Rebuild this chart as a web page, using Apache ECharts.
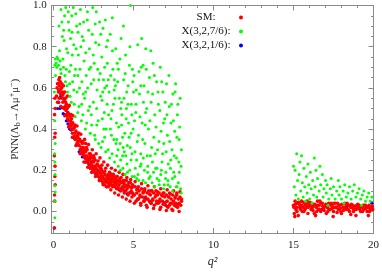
<!DOCTYPE html>
<html><head><meta charset="utf-8">
<script src="https://cdn.jsdelivr.net/npm/echarts@6/dist/echarts.min.js"></script>
<style>html,body{margin:0;padding:0;background:#fff}#c{width:382px;height:273px}</style>
</head><body><div id="c"></div>
<script>
// ---- data ----
const xMajorTicks = [0, 5, 10, 15, 20];
const xMinorTicks = [1,2,3,4,6,7,8,9,11,12,13,14,16,17,18,19];
const yMajorTicks = [0, 0.2, 0.4, 0.6, 0.8, 1.0];
const yMinorTicks = [-0.05,0.05,0.1,0.15,0.25,0.3,0.35,0.45,0.5,0.55,0.65,0.7,0.75,0.85,0.9,0.95];
const seriesNames = ['SM:', 'X(3,2,7/6):', 'X(3,2,1/6):'];

// SM (red)
const smLow = [
[0.08,0.55],[0.06,0.47],[0.1,0.38],[0.07,0.36],[0.05,0.27],[0.09,0.22],[0.08,0.17],[0.06,0.08],[0.07,0.05],[0.1,0.13],[0.05,-0.08],[0.1,0.50],
[0.18,0.56],[0.22,0.60],[0.25,0.53],[0.28,0.62],[0.3,0.58],[0.33,0.64],[0.35,0.55],[0.38,0.61],[0.4,0.59],[0.42,0.63],[0.45,0.57],[0.48,0.60],[0.5,0.55],[0.52,0.62],[0.55,0.58],
[0.58,0.53],[0.6,0.57],[0.63,0.55],[0.65,0.50],[0.68,0.54],[0.7,0.58],[0.72,0.51],[0.75,0.53],[0.78,0.49],[0.8,0.52],[0.83,0.47],[0.85,0.50],[0.88,0.45],[0.9,0.48],[0.93,0.51],[0.95,0.44],[0.98,0.47],
[1.0,0.42],[1.03,0.46],[1.06,0.44],[1.1,0.40],[1.12,0.45],[1.15,0.42],[1.18,0.38],[1.2,0.43],[1.23,0.40],[1.27,0.36],[1.3,0.41],[1.33,0.38],[1.36,0.35],[1.4,0.39],[1.43,0.36],[1.46,0.33],[1.5,0.37],
[1.53,0.34],[1.56,0.38],[1.6,0.32],[1.63,0.35],[1.66,0.30],[1.7,0.34],[1.73,0.31],[1.76,0.28],[1.8,0.33],[1.83,0.29],[1.86,0.31],[1.9,0.27],[1.93,0.30],[1.96,0.26],[2.0,0.29],[2.0,0.33],
[2.05,0.27],[2.08,0.24],[2.1,0.30],[2.15,0.26],[2.2,0.23],[2.22,0.28],[2.27,0.25],[2.3,0.21],[2.33,0.27],[2.36,0.24],[2.4,0.22],[2.43,0.26],[2.46,0.20],[2.5,0.24],[2.5,0.27],
[2.55,0.22],[2.58,0.19],[2.6,0.25],[2.65,0.21],[2.7,0.18],[2.72,0.23],[2.77,0.20],[2.8,0.17],[2.83,0.22],[2.87,0.19],[2.9,0.16],[2.93,0.21],[2.96,0.18],[3.0,0.15],[3.0,0.20],
[3.05,0.17],[3.08,0.14],[3.1,0.19],[3.15,0.16],[3.2,0.13],[3.22,0.18],[3.27,0.15],[3.3,0.12],[3.33,0.17],[3.37,0.14],[3.4,0.16],[3.43,0.12],[3.47,0.15],[3.5,0.13],[3.5,0.17],
[3.55,0.16],[3.58,0.13],[3.62,0.18],[3.65,0.15],[3.7,0.12],[3.73,0.17],[3.77,0.14],[3.8,0.16],[3.83,0.12],[3.87,0.15],[3.9,0.13],[3.93,0.17],[3.97,0.14],[4.0,0.11],
[4.05,0.15],[4.1,0.13],[4.15,0.16],[4.2,0.11],[4.25,0.14],[4.3,0.12],[4.35,0.15],[4.4,0.10],[4.45,0.13],[4.5,0.12],[4.55,0.15],[4.6,0.11],[4.65,0.13],[4.7,0.09],[4.75,0.12],[4.8,0.14],[4.85,0.10],[4.9,0.12],[4.95,0.09],[5.0,0.12],
[5.05,0.08],[5.1,0.12],[5.15,0.05],[5.2,0.09],[5.25,0.11],[5.3,0.06],[5.35,0.10],[5.4,0.08],[5.45,0.04],[5.5,0.11],[5.55,0.07],[5.6,0.09],[5.65,0.05],[5.7,0.10],[5.75,0.07],[5.8,0.03],[5.85,0.09],[5.9,0.06],[5.95,0.10],[6.0,0.05],
[6.05,0.08],[6.1,0.04],[6.15,0.10],[6.2,0.06],[6.25,0.09],[6.3,0.03],[6.35,0.07],[6.4,0.10],[6.45,0.05],[6.5,0.08],[6.55,0.04],[6.6,0.09],[6.65,0.06],[6.7,0.02],[6.75,0.08],[6.8,0.05],[6.85,0.09],[6.9,0.04],[6.95,0.07],[7.0,0.03],
[7.05,0.08],[7.1,0.05],[7.15,0.02],[7.2,0.07],[7.25,0.09],[7.3,0.04],[7.35,0.06],[7.4,0.01],[7.45,0.08],[7.5,0.05],[7.55,0.03],[7.6,0.07],[7.65,0.04],[7.7,0.09],[7.75,0.02],[7.8,0.06],[7.85,0.04],[7.9,0.07],[7.95,0.03],[8.0,0.05],
[0.25,0.62],[0.38,0.65],[0.5,0.60],[0.62,0.61],[0.74,0.55],[0.86,0.56],[0.98,0.515],[1.1,0.47],[1.22,0.465],[1.34,0.42],[1.46,0.415],[1.58,0.38],[1.7,0.375],[1.82,0.34],[1.94,0.35],[2.06,0.31],[2.18,0.325],[2.3,0.28],[2.42,0.30],[2.54,0.26],[2.66,0.28],[2.78,0.245],[2.9,0.26],[3.02,0.225],[3.14,0.24],[3.26,0.21],[3.38,0.225],[3.5,0.19],[3.62,0.21],[3.74,0.18],[3.86,0.20],[3.98,0.17],[4.1,0.19],[4.22,0.165],[4.34,0.18],[4.46,0.15],[4.58,0.165],[4.7,0.14],[4.82,0.155],[4.94,0.13],[5.1,0.145],[5.3,0.12],[5.5,0.135],[5.7,0.11],[5.9,0.125],[6.1,0.10],[6.3,0.12],[6.5,0.095],[6.7,0.11],[6.9,0.09],[7.1,0.105],[7.3,0.085],[7.5,0.10],[7.7,0.08],[7.9,0.095],
[0.3,0.53],[0.45,0.51],[0.58,0.505],[0.7,0.465],[0.82,0.465],[0.94,0.41],[1.06,0.415],[1.18,0.36],[1.3,0.365],[1.42,0.32],[1.54,0.325],[1.66,0.28],[1.78,0.285],[1.9,0.24],[2.02,0.255],[2.14,0.215],[2.26,0.225],[2.38,0.19],[2.5,0.205],[2.62,0.17],[2.74,0.185],[2.86,0.15],[2.98,0.165],[3.1,0.13],[3.22,0.15],[3.34,0.12],[3.46,0.135],[3.58,0.105],[3.7,0.125],[3.82,0.09],[3.94,0.11],[4.06,0.08],[4.18,0.10],[4.3,0.07],[4.42,0.09],[4.54,0.06],[4.66,0.08],[4.78,0.05],[4.9,0.07],[5.05,0.04],[5.25,0.06],[5.45,0.03],[5.65,0.05],[5.85,0.02],[6.05,0.045],[6.25,0.015],[6.45,0.04],[6.65,0.01],[6.85,0.035],[7.05,0.005],[7.25,0.03],[7.45,0.005],[7.65,0.025],[7.85,0.0],
[0.32,0.59],[0.44,0.575],[0.56,0.565],[0.68,0.50],[0.8,0.50],[0.92,0.475],[1.04,0.425],[1.16,0.40],[1.28,0.405],[1.4,0.35],[1.52,0.36],[1.64,0.345],[1.76,0.30],[1.88,0.285],[2.0,0.295],[2.12,0.25],[2.24,0.265],[2.36,0.23],[2.48,0.245],[2.6,0.205],[2.72,0.225],[2.84,0.19],[2.96,0.21],[3.08,0.17],[3.2,0.195],[3.32,0.155],[3.44,0.18],[3.56,0.14],[3.68,0.165],[3.8,0.13],[3.92,0.155],[4.04,0.12],[4.16,0.145],[4.28,0.11],[4.4,0.135],[4.52,0.10],[4.64,0.125],[4.76,0.09],[4.88,0.115],[5.0,0.08],[5.2,0.105],[5.4,0.07],[5.6,0.095],[5.8,0.06],[6.0,0.085],[6.2,0.055],[6.4,0.08],[6.6,0.05],[6.8,0.075],[7.0,0.045],[7.2,0.07],[7.4,0.04],[7.6,0.065],[7.8,0.035],[8.0,0.06]
];
const smHigh = [
[15.0,0.03],[15.05,-0.01],[15.1,0.05],[15.2,0.02],[15.25,0.04],[15.3,-0.02],[15.4,0.03],[15.45,0.01],[15.5,0.05],[15.6,0.02],[15.65,0.00],[15.7,0.04],[15.8,0.02],[15.85,0.05],[15.9,-0.01],[16.0,0.03],[16.1,0.01],[16.15,0.04],[16.2,0.02],[16.3,-0.01],[16.4,0.03],[16.5,0.05],[16.55,0.01],[16.6,0.03],[16.7,0.00],[16.8,0.04],[16.9,0.02],[17.0,0.03],[17.05,-0.01],[17.1,0.02],[17.2,0.04],[17.3,0.01],[17.4,0.03],[17.5,0.00],[17.6,0.04],[17.7,0.02],[17.8,0.01],[17.9,0.03],[18.0,-0.01],[18.1,0.02],[18.2,0.04],[18.3,0.01],[18.4,0.03],[18.5,0.00],[18.6,0.02],[18.7,0.03],[18.8,0.01],[18.9,-0.02],[19.0,0.02],[19.1,0.03],[19.2,0.00],[19.3,0.02],[19.4,0.01],[19.5,0.03],[19.6,0.00],[19.7,0.02],[19.8,0.01],[19.9,0.02],
[15.15,0.01],[15.35,0.04],[15.55,0.00],[15.75,0.03],[15.95,0.04],[16.25,0.03],[16.45,0.00],[16.65,0.05],[16.85,0.01],[17.15,0.00],[17.35,0.04],[17.55,0.02],[17.75,0.04],[17.95,0.00],[18.15,0.02],[18.35,0.04],[18.55,0.03],[18.75,0.00],[18.95,0.03],[19.15,0.01],[19.35,0.03],[19.55,0.02],[19.75,0.00],[19.95,0.01],
[15.02,0.02],[15.12,0.035],[15.22,0.00],[15.32,0.045],[15.42,0.015],[15.52,0.03],[15.62,0.045],[15.72,0.01],[15.82,0.035],[15.92,0.02],[16.02,0.045],[16.12,0.025],[16.22,0.005],[16.32,0.035],[16.42,0.02],[16.52,0.03],[16.62,0.01],[16.72,0.04],[16.82,0.025],[16.92,0.005],[17.02,0.035],[17.12,0.02],[17.22,0.01],[17.32,0.03],[17.42,0.015],[17.52,0.04],[17.62,0.02],[17.72,-0.005],[17.82,0.03],[17.92,0.015],[18.02,0.035],[18.12,0.005],[18.22,0.02],[18.32,0.03],[18.42,0.01],[18.52,0.025],[18.62,0.035],[18.72,0.015],[18.82,0.025],[18.92,0.01],[19.02,0.035],[19.12,0.015],[19.22,0.025],[19.32,0.00],[19.42,0.03],[19.52,0.015],[19.62,0.02],[19.72,0.03],[19.82,0.01],[19.92,0.025],[15.08,-0.025],[16.38,-0.02],[17.48,-0.025],[18.58,-0.015],[19.68,-0.02]
];

// X(3,2,7/6) (green)
const x76Low = [
[0.08,0.71],[0.12,0.66],[0.05,0.58],[0.07,0.44],[0.1,0.33],[0.06,0.28],[0.08,0.24],[0.09,0.18],[0.07,0.125],[0.1,0.095],[0.06,0.05],[0.08,-0.03],[0.11,0.74],[0.15,0.72],[0.2,0.70],[0.22,0.75],
[0.31,0.71],[0.37,0.78],[0.44,0.69],[0.52,0.92],[0.58,0.74],[0.66,0.83],[0.71,0.66],[0.76,0.99],[0.84,0.61],[0.89,0.77],[0.97,0.88],[1.03,0.56],[1.08,0.71],[1.14,0.95],[1.19,0.63],[1.26,0.81],[1.29,0.52],[1.37,0.69],[1.44,0.90],[1.51,0.48],[1.55,0.76],[1.62,0.60],[1.68,0.98],[1.74,0.44],[1.79,0.85],[1.86,0.57],[1.91,0.73],[1.99,0.40],[2.04,0.66],[2.11,0.93],[2.17,0.49],[2.24,0.79],[2.29,0.38],[2.35,0.62],[2.42,0.86],[2.49,0.53],[2.54,0.72],[2.61,0.35],[2.67,0.97],[2.72,0.59],[2.79,0.44],[2.84,0.81],[2.91,0.67],[2.97,0.31],[3.03,0.54],[3.09,0.89],[3.14,0.40],[3.19,0.70],[3.26,0.29],[3.32,0.61],[3.38,0.83],[3.44,0.47],[3.51,0.26],[3.57,0.66],[3.62,0.37],[3.68,0.78],[3.74,0.52],[3.81,0.24],[3.87,0.61],[3.93,0.43],[3.98,0.72],[4.04,0.22],[4.11,0.55],[4.16,0.33],[4.22,0.84],[4.27,0.47],[4.34,0.21],[4.38,0.64],[4.45,0.38],[4.51,0.27],[4.57,0.58],[4.62,0.19],[4.69,0.43],[4.74,0.71],[4.79,0.31],[4.86,0.52],[4.91,0.17],[4.97,0.40],
[0.27,0.74],[0.34,0.90],[0.41,0.73],[0.47,0.67],[0.55,0.85],[0.62,0.70],[0.69,0.95],[0.74,0.63],[0.81,0.79],[0.87,0.58],[0.93,0.92],[0.99,0.68],[1.06,0.84],[1.11,0.53],[1.17,0.76],[1.23,0.99],[1.31,0.66],[1.35,0.46],[1.41,0.79],[1.47,0.58],[1.53,0.87],[1.59,0.51],[1.65,0.69],[1.71,0.80],[1.77,0.63],[1.83,0.47],[1.88,0.92],[1.94,0.55],[2.01,0.77],[2.07,0.43],[2.13,0.60],[2.19,0.88],[2.26,0.51],[2.32,0.70],[2.38,0.42],[2.45,0.99],[2.51,0.64],[2.57,0.37],[2.63,0.82],[2.69,0.50],[2.76,0.69],[2.82,0.33],[2.88,0.92],[2.94,0.56],[3.01,0.75],[3.06,0.34],[3.12,0.64],[3.17,0.48],[3.24,0.93],[3.29,0.40],[3.36,0.72],[3.41,0.30],[3.47,0.58],[3.54,0.86],[3.59,0.45],[3.66,0.28],[3.71,0.69],[3.77,0.35],[3.84,0.55],[3.89,0.79],[3.95,0.27],[4.01,0.63],[4.07,0.41],[4.14,0.74],[4.19,0.25],[4.25,0.53],[4.31,0.36],[4.37,0.90],[4.42,0.29],[4.48,0.67],[4.54,0.45],[4.59,0.23],[4.66,0.61],[4.72,0.36],[4.77,0.80],[4.84,0.25],[4.89,0.47],[4.95,0.63],
[0.46,0.98],[0.63,0.88],[0.79,0.69],[0.92,0.97],[1.0,0.62],[1.15,0.87],[1.27,0.59],[1.39,0.96],[1.52,0.66],[1.64,0.91],[1.76,0.52],[1.87,0.83],[2.0,0.58],[2.12,0.97],[2.23,0.69],[2.36,0.47],[2.48,0.76],[2.6,0.91],[2.7,0.42],[2.83,0.64],[2.95,0.86],[3.07,0.58],[3.19,0.36],[3.3,0.80],[3.42,0.64],[3.55,0.40],[3.67,0.94],[3.79,0.59],[3.91,0.33],[4.05,0.69],[4.2,0.50],[4.35,0.31],[4.5,0.76],[4.65,0.52],[4.8,1.0],[4.93,0.69],
[5.03,0.66],[5.09,0.29],[5.14,0.48],[5.2,0.16],[5.26,0.81],[5.31,0.37],[5.37,0.57],[5.42,0.22],[5.48,0.70],[5.54,0.43],[5.6,0.15],[5.65,0.61],[5.71,0.33],[5.76,0.79],[5.82,0.50],[5.88,0.19],[5.93,0.40],[5.99,0.65],[6.05,0.27],[6.1,0.53],[6.16,0.14],[6.22,0.72],[6.27,0.36],[6.33,0.47],[6.38,0.21],[6.44,0.63],[6.5,0.30],[6.55,0.52],[6.61,0.13],[6.67,0.70],[6.72,0.39],[6.78,0.24],[6.83,0.58],[6.89,0.33],[6.95,0.45],[7.0,0.16],[7.06,0.62],[7.12,0.37],[7.17,0.23],[7.23,0.51],[7.29,0.12],[7.34,0.43],[7.4,0.30],[7.46,0.57],[7.51,0.19],[7.57,0.39],[7.63,0.62],[7.68,0.26],[7.74,0.47],[7.8,0.14],[7.85,0.35],[7.91,0.55],[7.97,0.22],
[5.06,0.44],[5.11,0.21],[5.17,0.59],[5.23,0.34],[5.28,0.18],[5.34,0.68],[5.4,0.46],[5.45,0.28],[5.51,0.84],[5.57,0.35],[5.62,0.53],[5.68,0.20],[5.73,0.42],[5.79,0.69],[5.85,0.27],[5.9,0.58],[5.96,0.16],[6.02,0.44],[6.08,0.78],[6.13,0.31],[6.19,0.57],[6.25,0.19],[6.3,0.66],[6.36,0.28],[6.41,0.41],[6.47,0.16],[6.53,0.58],[6.59,0.34],[6.64,0.49],[6.7,0.18],[6.76,0.63],[6.81,0.28],[6.87,0.43],[6.92,0.13],[6.98,0.53],[7.04,0.29],[7.09,0.47],[7.15,0.15],[7.21,0.66],[7.26,0.34],[7.32,0.25],[7.37,0.52],[7.43,0.16],[7.49,0.44],[7.54,0.27],[7.6,0.58],[7.66,0.12],[7.71,0.36],[7.77,0.52],[7.83,0.24],[7.88,0.41],[7.94,0.11],[7.99,0.30],
[4.03,0.30],[4.18,0.20],[4.32,0.27],[4.47,0.18],[4.61,0.32],[4.76,0.20],[4.9,0.28],[5.05,0.17],[5.19,0.25],[5.33,0.15],[5.47,0.23],[5.61,0.26],[5.75,0.14],[5.89,0.22],[6.04,0.17],[6.18,0.24],[6.32,0.12],[6.46,0.21],[6.6,0.15],[6.74,0.20],[6.88,0.11],[7.02,0.19],[7.16,0.13],[7.3,0.21],[7.44,0.10],[7.58,0.17],[7.72,0.12],[7.86,0.19],[7.98,0.09],
[3.05,0.45],[3.35,0.52],[3.65,0.49],[3.95,0.35],[4.25,0.42],[4.55,0.50],[4.85,0.38],[5.15,0.52],[5.45,0.61],[5.75,0.48],[3.2,0.60],[3.8,0.64],[4.4,0.55],[5.0,0.58],[5.6,0.71]
];
const x76High = [
[15.05,0.12],[15.1,0.20],[15.15,0.08],[15.2,0.28],[15.25,0.15],[15.3,0.06],[15.35,0.18],[15.4,0.24],[15.45,0.10],[15.5,0.27],[15.55,0.14],[15.6,0.07],[15.65,0.21],[15.7,0.12],[15.8,0.17],[15.85,0.09],[15.9,0.23],[15.95,0.13],[16.0,0.06],[16.05,0.19],[16.1,0.11],[16.2,0.15],[16.25,0.08],[16.3,0.26],[16.35,0.12],[16.4,0.20],[16.45,0.07],[16.5,0.16],[16.6,0.10],[16.65,0.22],[16.7,0.13],[16.8,0.18],[16.85,0.07],[16.9,0.11],[17.0,0.15],[17.05,0.09],[17.1,0.13],[17.2,0.06],[17.3,0.11],[17.35,0.16],[17.4,0.08],[17.5,0.12],[17.6,0.06],[17.7,0.10],[17.8,0.15],[17.85,0.08],[17.9,0.12],[18.0,0.06],[18.1,0.10],[18.2,0.13],[18.3,0.07],[18.4,0.09],[18.5,0.12],[18.6,0.06],[18.7,0.10],[18.8,0.13],[18.9,0.07],[19.0,0.09],[19.1,0.11],[19.2,0.06],[19.3,0.08],[19.4,0.10],[19.5,0.05],[19.6,0.07],[19.7,0.09],[19.8,0.05],[19.9,0.07],[15.75,0.05],[16.15,0.04],[17.15,0.03],[18.15,0.04],[19.25,0.03],[15.0,0.22]
];

// X(3,2,1/6) (blue)
const x16Points = [
[0.25,0.50],[0.32,0.53],[0.4,0.50],[0.5,0.505],[0.6,0.475],[0.7,0.47],[0.8,0.44],[0.9,0.425],[1.0,0.40],[1.1,0.395],[1.2,0.36],[1.3,0.355],[1.4,0.32],[1.5,0.325],[1.6,0.29],[1.7,0.30],[1.8,0.265],[1.9,0.27],[2.0,0.24],[2.15,0.24],[2.3,0.21],[2.45,0.215],[2.6,0.185],[2.75,0.19],[2.9,0.16],[3.05,0.17],[3.25,0.145],[3.45,0.15],[3.65,0.125],[3.85,0.13],[4.1,0.105],[4.35,0.11],[4.6,0.085],[4.9,0.09],[5.3,0.06],[5.7,0.065],[6.1,0.04],[6.6,0.045],[7.1,0.025],[7.6,0.035],[0.05,-0.08],[15.4,0.02],[16.8,0.01],[18.3,0.02],[19.9,0.04],[1.15,0.43],[2.25,0.26],[0.45,0.56]
];

// ---- chart ----
const FONT = '"Liberation Serif","DejaVu Serif",serif';
const frame = '#8a8a8a';
const chart = echarts.init(document.getElementById('c'), null, {renderer: 'canvas'});
function xAx(pos, major, withLabel) {
  return {
    type: 'value', position: pos, min: -0.12, max: 20,
    axisLine: {show: true, onZero: false, lineStyle: {color: frame, width: 1}},
    splitLine: {show: false},
    axisTick: {show: true, inside: true, length: major ? 5 : 2.5, lineStyle: {color: frame},
               customValues: major ? xMajorTicks : xMinorTicks},
    axisLabel: withLabel ? {show: true, customValues: xMajorTicks, fontFamily: FONT, fontSize: 11, color: '#222', margin: 7}
                         : {show: false},
    name: withLabel ? 'q²' : '', nameLocation: 'middle', nameGap: 21,
    nameTextStyle: {fontFamily: FONT, fontSize: 12, fontStyle: 'italic', color: '#222'}
  };
}
function yAx(pos, major, withLabel) {
  return {
    type: 'value', position: pos, min: -0.105, max: 1.0,
    axisLine: {show: true, onZero: false, lineStyle: {color: frame, width: 1}},
    splitLine: {show: false},
    axisTick: {show: true, inside: true, length: major ? 5 : 2.5, lineStyle: {color: frame},
               customValues: major ? yMajorTicks : yMinorTicks},
    axisLabel: withLabel ? {show: true, customValues: yMajorTicks, fontFamily: FONT, fontSize: 11, color: '#222', margin: 5,
                            formatter: v => v.toFixed(1)} : {show: false},
    name: withLabel ? 'PNN(Λ{s|b}→Λμ{p|+}μ{p|−})' : '', nameLocation: 'middle', nameGap: 29, nameRotate: 90,
    nameTextStyle: {fontFamily: FONT, fontSize: 11, color: '#222', lineHeight: 14,
      rich: {s: {fontFamily: FONT, fontSize: 8, color: '#222', verticalAlign: 'bottom', lineHeight: 14},
             p: {fontFamily: FONT, fontSize: 8, color: '#222', verticalAlign: 'top', lineHeight: 14}}}
  };
}
const sym = (name, color, data, size, z) => ({
  name, type: 'scatter', xAxisIndex: 0, yAxisIndex: 0, data, symbol: 'circle', symbolSize: size,
  itemStyle: {color, opacity: 1}, z, silent: true, animation: false, large: false
});
chart.setOption({
  animation: false,
  backgroundColor: '#fff',
  grid: {left: 35, right: 5, top: 5, bottom: 38, containLabel: false},
  xAxis: [xAx('bottom', true, true), xAx('top', true, false), xAx('bottom', false, false), xAx('top', false, false)],
  yAxis: [yAx('left', true, true), yAx('right', true, false), yAx('left', false, false), yAx('right', false, false)],
  legend: {
    data: seriesNames, orient: 'vertical', left: 178, top: 12, padding: 0, itemGap: 3,
    align: 'right', icon: 'circle', itemWidth: 4, itemHeight: 4, selectedMode: false,
    formatter: n => '{t|' + n + '}',
    textStyle: {rich: {t: {fontFamily: FONT, fontSize: 11, color: '#111', width: 56, align: 'center', lineHeight: 13}}}
  },
  series: [
    sym(seriesNames[2], '#0000ff', x16Points, 3.2, 2),
    sym(seriesNames[0], '#ff0000', smLow.concat(smHigh), 3.6, 3),
    sym(seriesNames[1], '#00ff00', x76Low.concat(x76High), 3, 4)
  ]
});
</script></body></html>
